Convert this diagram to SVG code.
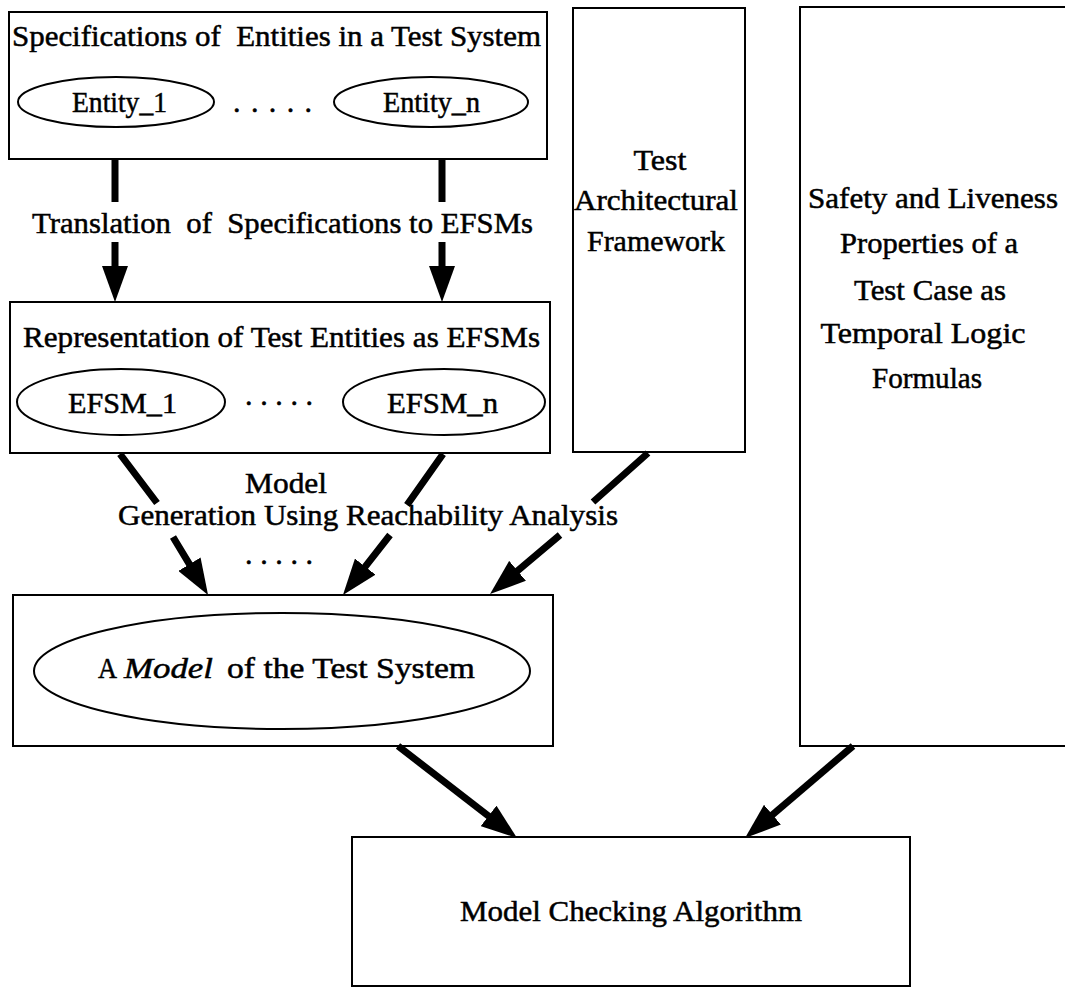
<svg xmlns="http://www.w3.org/2000/svg" width="1065" height="989" viewBox="0 0 1065 989">
  <style>
    .box { fill: none; stroke: #000; stroke-width: 2; }
    .ell { fill: none; stroke: #000; stroke-width: 2; }
    text { font-family: "Liberation Serif", "Times New Roman", serif; font-size: 30px; fill: #000; stroke: #000; stroke-width: 0.5; }
    .c { text-anchor: middle; }
    .it { font-style: italic; }
    .conn { fill: none; stroke: #000; stroke-width: 7; }
  </style>
  <defs>
    <marker id="ah" viewBox="0 0 36 26" markerWidth="36" markerHeight="26" refX="4" refY="13" orient="auto" markerUnits="userSpaceOnUse">
      <path d="M0,0 L36,13 L0,26 z" fill="#000"/>
    </marker>
  </defs>
  <rect width="1065" height="989" fill="#fff"/>

  <!-- entity specifications -->
  <g id="spec">
    <rect class="box" x="9" y="12" width="538" height="147"/>
    <text x="12" y="46" textLength="529" lengthAdjust="spacingAndGlyphs" xml:space="preserve">Specifications of  Entities in a Test System</text>
    <ellipse class="ell" cx="116" cy="102" rx="98" ry="25"/>
    <text x="72" y="112" textLength="95" lengthAdjust="spacingAndGlyphs">Entity_1</text>
    <text x="233" y="112" textLength="79" lengthAdjust="spacing">. . . . .</text>
    <ellipse class="ell" cx="431" cy="102" rx="97" ry="25"/>
    <text x="383" y="112" textLength="97" lengthAdjust="spacingAndGlyphs">Entity_n</text>
  </g>

  <!-- EFSM representation -->
  <g id="repr">
    <rect class="box" x="10" y="302" width="540" height="151"/>
    <text x="23" y="347" textLength="517" lengthAdjust="spacingAndGlyphs">Representation of Test Entities as EFSMs</text>
    <ellipse class="ell" cx="121" cy="402" rx="104" ry="33"/>
    <text x="68" y="413" textLength="109" lengthAdjust="spacingAndGlyphs">EFSM_1</text>
    <text x="245" y="405" textLength="68" lengthAdjust="spacing">. . . . .</text>
    <ellipse class="ell" cx="444" cy="402" rx="101" ry="33"/>
    <text x="387" y="413" textLength="111" lengthAdjust="spacingAndGlyphs">EFSM_n</text>
  </g>

  <!-- test architectural framework -->
  <g id="taf">
    <rect class="box" x="573" y="8" width="172" height="444"/>
    <text class="c" x="660" y="170" textLength="53" lengthAdjust="spacingAndGlyphs">Test</text>
    <text class="c" x="656" y="210" textLength="164" lengthAdjust="spacingAndGlyphs">Architectural</text>
    <text class="c" x="656" y="251" textLength="138" lengthAdjust="spacingAndGlyphs">Framework</text>
  </g>

  <!-- safety and liveness properties -->
  <g id="props">
    <rect class="box" x="800" y="7" width="280" height="739"/>
    <text class="c" x="933" y="208" textLength="250" lengthAdjust="spacingAndGlyphs">Safety and Liveness</text>
    <text class="c" x="929" y="253" textLength="178" lengthAdjust="spacingAndGlyphs">Properties of a</text>
    <text class="c" x="930" y="300" textLength="152" lengthAdjust="spacingAndGlyphs">Test Case as</text>
    <text class="c" x="923" y="343" textLength="205" lengthAdjust="spacingAndGlyphs">Temporal Logic</text>
    <text class="c" x="927" y="388" textLength="110" lengthAdjust="spacingAndGlyphs">Formulas</text>
  </g>

  <!-- generated model -->
  <g id="model">
    <rect class="box" x="13" y="595" width="540" height="151"/>
    <ellipse class="ell" cx="282" cy="671" rx="248" ry="58"/>
    <text x="98" y="678" textLength="19" lengthAdjust="spacingAndGlyphs">A</text>
    <text class="it" x="124" y="678" textLength="89" lengthAdjust="spacingAndGlyphs">Model</text>
    <text x="227" y="678" textLength="248" lengthAdjust="spacingAndGlyphs">of the Test System</text>
  </g>

  <!-- model checking -->
  <g id="checker">
    <rect class="box" x="352" y="837" width="558" height="149"/>
    <text x="460" y="921" textLength="342" lengthAdjust="spacingAndGlyphs">Model Checking Algorithm</text>
  </g>

  <!-- connector labels -->
  <g id="labels">
    <text x="32" y="233" textLength="501" lengthAdjust="spacingAndGlyphs" xml:space="preserve">Translation  of  Specifications to EFSMs</text>
    <text x="245" y="493" textLength="82" lengthAdjust="spacingAndGlyphs">Model</text>
    <text x="118" y="525" textLength="500" lengthAdjust="spacingAndGlyphs">Generation Using Reachability Analysis</text>
    <text x="245" y="564" textLength="68" lengthAdjust="spacing">. . . . .</text>
  </g>

  <!-- connectors: thick shafts, broken where a label crosses them -->
  <g id="connectors">
    <path class="conn" d="M115,159 V202 M115,242 V270" marker-end="url(#ah)"/>
    <path class="conn" d="M442,159 V202 M442,242 V270" marker-end="url(#ah)"/>
    <path class="conn" d="M120,454 L157,503 M173,537 L191.5,567.6" marker-end="url(#ah)"/>
    <path class="conn" d="M443,454 L407,505 M390,535 L362.7,569.8" marker-end="url(#ah)"/>
    <path class="conn" d="M648,453 L593,502 M560,535 L514.5,573.4" marker-end="url(#ah)"/>
    <path class="conn" d="M398,746 L491.7,818.4" marker-end="url(#ah)"/>
    <path class="conn" d="M853,746 L769.4,817.3" marker-end="url(#ah)"/>
  </g>
</svg>
